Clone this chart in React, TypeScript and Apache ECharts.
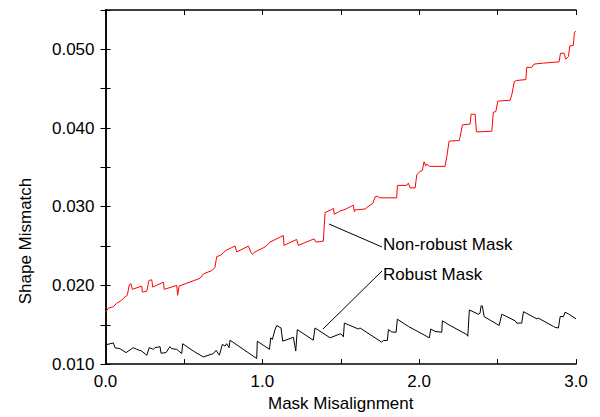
import React, { useEffect, useRef } from "react";
import * as echarts from "echarts";

const nonRobustX = [0.000, 0.018, 0.050, 0.071, 0.103, 0.124, 0.139, 0.152, 0.163, 0.171, 0.231, 0.235, 0.263, 0.277, 0.295, 0.301, 0.369, 0.375, 0.454, 0.460, 0.469, 0.603, 0.624, 0.677, 0.698, 0.709, 0.735, 0.751, 0.773, 0.826, 0.837, 0.911, 0.928, 0.936, 0.953, 1.017, 1.049, 1.134, 1.138, 1.219, 1.230, 1.330, 1.342, 1.389, 1.400, 1.443, 1.453, 1.459, 1.496, 1.527, 1.570, 1.580, 1.587, 1.591, 1.655, 1.687, 1.704, 1.719, 1.733, 1.751, 1.857, 1.861, 1.921, 1.931, 1.942, 1.974, 1.985, 2.006, 2.020, 2.031, 2.042, 2.048, 2.065, 2.165, 2.176, 2.191, 2.255, 2.261, 2.276, 2.325, 2.331, 2.357, 2.365, 2.463, 2.473, 2.489, 2.501, 2.580, 2.591, 2.607, 2.622, 2.680, 2.686, 2.718, 2.733, 2.792, 2.892, 2.901, 2.924, 2.935, 2.952, 2.960, 2.983, 2.990, 3.000];
const nonRobustY = [0.01659, 0.01709, 0.01729, 0.01771, 0.01813, 0.01854, 0.01875, 0.02009, 0.02021, 0.01950, 0.01991, 0.01916, 0.01925, 0.02063, 0.02071, 0.01979, 0.02041, 0.01950, 0.02000, 0.01875, 0.01991, 0.02091, 0.02146, 0.02188, 0.02229, 0.02366, 0.02384, 0.02416, 0.02450, 0.02500, 0.02425, 0.02500, 0.02416, 0.02396, 0.02425, 0.02488, 0.02550, 0.02634, 0.02509, 0.02584, 0.02509, 0.02591, 0.02550, 0.02563, 0.02925, 0.02966, 0.02979, 0.02904, 0.02946, 0.02966, 0.03009, 0.03021, 0.02938, 0.02959, 0.02971, 0.03021, 0.03041, 0.03125, 0.03134, 0.03113, 0.03113, 0.03271, 0.03271, 0.03300, 0.03241, 0.03238, 0.03409, 0.03450, 0.03459, 0.03571, 0.03521, 0.03541, 0.03513, 0.03513, 0.03634, 0.03834, 0.03841, 0.03884, 0.04041, 0.04050, 0.04175, 0.04175, 0.03950, 0.03959, 0.04200, 0.04209, 0.04341, 0.04354, 0.04425, 0.04591, 0.04604, 0.04616, 0.04771, 0.04771, 0.04813, 0.04825, 0.04841, 0.04950, 0.04950, 0.04875, 0.04909, 0.05041, 0.05050, 0.05216, 0.05229];

const robustX = [0.000, 0.050, 0.061, 0.092, 0.131, 0.177, 0.199, 0.231, 0.263, 0.279, 0.305, 0.316, 0.348, 0.354, 0.386, 0.411, 0.422, 0.454, 0.486, 0.492, 0.560, 0.624, 0.688, 0.705, 0.726, 0.745, 0.762, 0.773, 0.788, 0.794, 0.964, 0.968, 1.045, 1.054, 1.064, 1.081, 1.092, 1.119, 1.130, 1.198, 1.213, 1.223, 1.325, 1.336, 1.432, 1.496, 1.506, 1.517, 1.523, 1.538, 1.612, 1.623, 1.761, 1.772, 1.797, 1.804, 1.825, 1.853, 1.861, 1.931, 2.065, 2.074, 2.101, 2.144, 2.148, 2.197, 2.304, 2.310, 2.320, 2.378, 2.388, 2.395, 2.403, 2.414, 2.495, 2.510, 2.527, 2.612, 2.622, 2.654, 2.665, 2.750, 2.760, 2.856, 2.867, 2.888, 2.899, 2.920, 2.930, 2.952, 3.000];
const robustY = [0.01244, 0.01269, 0.01206, 0.01196, 0.01146, 0.01209, 0.01188, 0.01166, 0.01113, 0.01209, 0.01188, 0.01209, 0.01221, 0.01138, 0.01146, 0.01221, 0.01196, 0.01188, 0.01134, 0.01259, 0.01166, 0.01091, 0.01134, 0.01175, 0.01113, 0.01250, 0.01229, 0.01259, 0.01209, 0.01304, 0.01071, 0.01291, 0.01188, 0.01334, 0.01313, 0.01438, 0.01491, 0.01459, 0.01291, 0.01341, 0.01166, 0.01438, 0.01304, 0.01459, 0.01334, 0.01384, 0.01375, 0.01346, 0.01521, 0.01509, 0.01446, 0.01459, 0.01279, 0.01300, 0.01300, 0.01438, 0.01409, 0.01404, 0.01571, 0.01479, 0.01334, 0.01446, 0.01416, 0.01404, 0.01550, 0.01491, 0.01375, 0.01354, 0.01688, 0.01634, 0.01646, 0.01741, 0.01738, 0.01604, 0.01509, 0.01491, 0.01634, 0.01550, 0.01521, 0.01521, 0.01666, 0.01575, 0.01584, 0.01479, 0.01466, 0.01459, 0.01604, 0.01604, 0.01659, 0.01638, 0.01575];

const xLabels = ["0.0", "1.0", "2.0", "3.0"];
const yLabels = ["0.010", "0.020", "0.030", "0.040", "0.050"];
const xTitle = "Mask Misalignment";
const yTitle = "Shape Mismatch";
const seriesNames = ["Non-robust Mask", "Robust Mask"];

const FONT = "'Liberation Sans', Arial, sans-serif";

export default function App() {
  const ref = useRef<HTMLDivElement>(null);
  useEffect(() => {
    if (!ref.current) return;
    const chart = echarts.init(ref.current, null, { renderer: "svg" });
    const axisLine = { show: true, lineStyle: { color: "#000", width: 1.5 } };
    const axisTick = { show: true, inside: true, length: 5, lineStyle: { color: "#000", width: 1 } };
    const xFmt = (v: number) => {
      const r = Math.round(v * 10);
      return r % 10 === 0 ? xLabels[r / 10] ?? "" : "";
    };
    const yFmt = (v: number) => {
      const r = Math.round(v * 1000);
      return r % 10 === 0 ? yLabels[r / 10 - 1] ?? "" : "";
    };
    chart.setOption({
      animation: false,
      textStyle: { fontFamily: FONT },
      grid: { left: 105.5, right: 24, top: 10, bottom: 47, containLabel: false },
      xAxis: [
        {
          type: "value", min: 0, max: 3, interval: 0.5, position: "bottom",
          axisLine, axisTick, splitLine: { show: false },
          axisLabel: { formatter: xFmt, color: "#000", fontSize: 17, fontFamily: FONT, margin: 9, showMaxLabel: true, showMinLabel: true },
          name: xTitle, nameLocation: "middle", nameGap: 30,
          nameTextStyle: { color: "#000", fontSize: 17, fontFamily: FONT },
        },
        {
          type: "value", min: 0, max: 3, interval: 0.5, position: "top",
          axisLine, axisTick, splitLine: { show: false }, axisLabel: { show: false },
        },
      ],
      yAxis: [
        {
          type: "value", min: 0.01, max: 0.055, interval: 0.005, position: "left",
          axisLine, axisTick, splitLine: { show: false },
          axisLabel: { formatter: yFmt, color: "#000", fontSize: 17, fontFamily: FONT, margin: 11 },
        },
        {
          type: "value", min: 0.01, max: 0.055, interval: 0.005, position: "right",
          axisLine, axisTick, splitLine: { show: false }, axisLabel: { show: false },
        },
      ],
      series: [
        {
          name: seriesNames[0], type: "line", xAxisIndex: 0, yAxisIndex: 0,
          showSymbol: false, symbol: "none",
          lineStyle: { color: "#ff0000", width: 1 },
          data: nonRobustX.map((x, i) => [x, nonRobustY[i]]),
        },
        {
          name: seriesNames[1], type: "line", xAxisIndex: 0, yAxisIndex: 0,
          showSymbol: false, symbol: "none",
          lineStyle: { color: "#000", width: 1 },
          data: robustX.map((x, i) => [x, robustY[i]]),
        },
      ],
      graphic: [
        {
          type: "text", x: 25, y: 241, rotation: Math.PI / 2,
          style: { text: yTitle, fill: "#000", font: `17px ${FONT}`, textAlign: "center", textVerticalAlign: "middle" },
        },
        { type: "line", shape: { x1: 329, y1: 224, x2: 382, y2: 247 }, style: { stroke: "#000", lineWidth: 1 } },
        { type: "line", shape: { x1: 323, y1: 329, x2: 382, y2: 271 }, style: { stroke: "#000", lineWidth: 1 } },
        {
          type: "text", x: 383, y: 244,
          style: { text: seriesNames[0], fill: "#000", font: `17px ${FONT}`, textAlign: "left", textVerticalAlign: "middle" },
        },
        {
          type: "text", x: 383, y: 274,
          style: { text: seriesNames[1], fill: "#000", font: `17px ${FONT}`, textAlign: "left", textVerticalAlign: "middle" },
        },
      ],
    });
    return () => chart.dispose();
  }, []);
  return <div ref={ref} style={{ width: 600, height: 417, position: "absolute", left: 0, top: 0 }} />;
}
